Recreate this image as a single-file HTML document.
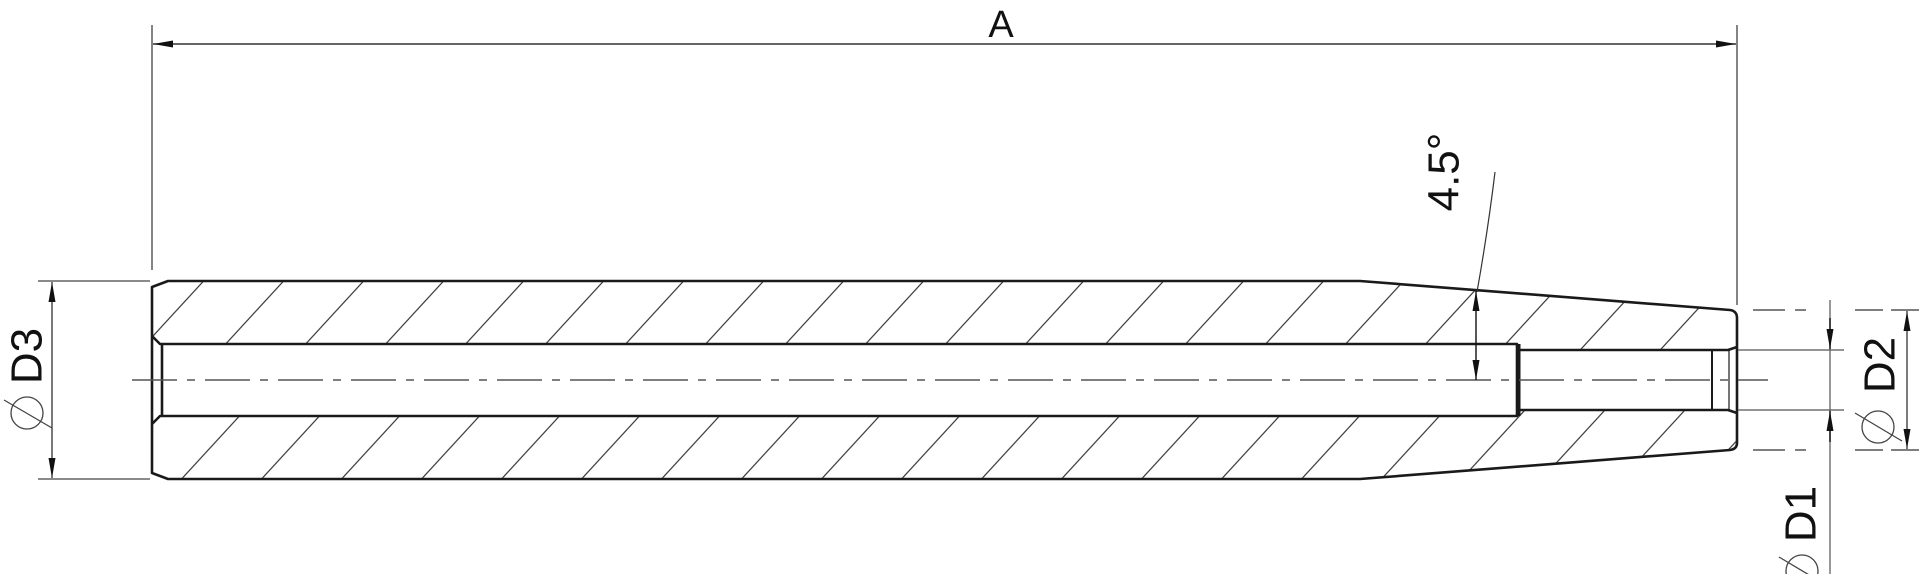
<!DOCTYPE html>
<html><head><meta charset="utf-8"><style>html,body{margin:0;padding:0;background:#fff}svg{display:block}</style></head>
<body>
<svg width="1920" height="574" viewBox="0 0 1920 574" xmlns="http://www.w3.org/2000/svg" font-family="Liberation Sans, sans-serif">
<defs>
<pattern id="h" patternUnits="userSpaceOnUse" width="80" height="20" patternTransform="skewX(-42.6)">
<line x1="62" y1="-5" x2="62" y2="25" stroke="#333" stroke-width="1.6"/>
</pattern>
<marker id="ar" markerWidth="20" markerHeight="10" refX="20" refY="5" orient="auto" markerUnits="userSpaceOnUse"><path d="M0,1.5 L20,5 L0,8.5 Z" fill="#111"/></marker>
<marker id="as" markerWidth="20" markerHeight="10" refX="0" refY="5" orient="auto" markerUnits="userSpaceOnUse"><path d="M20,1.5 L0,5 L20,8.5 Z" fill="#111"/></marker>
</defs>
<polygon points="152,281 1360,281 1737,310 1737,350 1517,350 1517,344 152,344" fill="url(#h)"/>
<polygon points="152,416 1517,416 1517,410 1737,410 1737,450 1360,479 152,479" fill="url(#h)"/>
<rect x="152" y="344" width="1365" height="72" fill="#fff"/>
<rect x="1517" y="350" width="220" height="60" fill="#fff"/>
<g fill="none" stroke="#1a1a1a" stroke-width="2.6" stroke-linejoin="round">
<path d="M168,281 L1360,281 L1730,310 Q1737,311 1737,318 L1737,443 Q1737,449 1730,450 L1360,479 L168,479 L152,473 L152,287 Z"/>
<path d="M152,336 L160,344 L1517,344 L1517,416 L160,416 L152,424"/>
<line x1="162" y1="344" x2="162" y2="416"/>
<path d="M1517,350 L1728,350 L1737,347"/>
<path d="M1517,410 L1728,410 L1737,413"/>
<line x1="1712" y1="350" x2="1712" y2="410" stroke-width="2"/>
<line x1="1729" y1="350" x2="1729" y2="410" stroke-width="1.2"/>
<line x1="1519" y1="344" x2="1519" y2="416" stroke-width="3"/>
</g>
<line x1="132" y1="380" x2="1768" y2="380" stroke="#555" stroke-width="1.5" stroke-dasharray="45,10,8,10"/>
<g stroke="#333" stroke-width="1.2">
<line x1="152" y1="25" x2="152" y2="270"/>
<line x1="1737" y1="25" x2="1737" y2="305"/>
<line x1="153" y1="44" x2="1736" y2="44" stroke-width="1.6" marker-start="url(#as)" marker-end="url(#ar)"/>
</g>
<text x="1001" y="37" font-size="38" text-anchor="middle" fill="#111">A</text>
<g stroke="#444" stroke-width="1.2">
<line x1="38" y1="281" x2="150" y2="281"/>
<line x1="38" y1="479" x2="150" y2="479"/>
<line x1="52" y1="282" x2="52" y2="478" marker-start="url(#as)" marker-end="url(#ar)" stroke="#222"/>
</g>
<text transform="rotate(-90 27 356)" x="27" y="356" font-size="44" text-anchor="middle" dominant-baseline="central" fill="#111">D3</text>
<circle cx="27" cy="413" r="16" fill="none" stroke="#444" stroke-width="1.3"/>
<line x1="4" y1="400" x2="52" y2="428" stroke="#444" stroke-width="1.3"/>
<g stroke="#555" stroke-width="1.5">
<line x1="1753" y1="310" x2="1806" y2="310" stroke-dasharray="32,10"/>
<line x1="1753" y1="450" x2="1806" y2="450" stroke-dasharray="32,10"/>
<line x1="1855" y1="310" x2="1920" y2="310" stroke-dasharray="28,8"/>
<line x1="1855" y1="450" x2="1920" y2="450" stroke-dasharray="28,8"/>
<line x1="1738" y1="350" x2="1844" y2="350" stroke-width="1.3"/>
<line x1="1738" y1="410" x2="1844" y2="410" stroke-width="1.3"/>
<line x1="1830" y1="300" x2="1830" y2="574" stroke-width="1.2"/>
<line x1="1830" y1="318" x2="1830" y2="349" stroke="#111" marker-end="url(#ar)"/>
<line x1="1830" y1="442" x2="1830" y2="411" stroke="#111" marker-end="url(#ar)"/>
<line x1="1907" y1="311" x2="1907" y2="449" stroke="#222" stroke-width="1.2" marker-start="url(#as)" marker-end="url(#ar)"/>
</g>
<text transform="rotate(-90 1880 365)" x="1880" y="365" font-size="44" text-anchor="middle" dominant-baseline="central" fill="#111">D2</text>
<circle cx="1878" cy="427" r="16" fill="none" stroke="#444" stroke-width="1.3"/>
<line x1="1855" y1="413" x2="1902" y2="441" stroke="#444" stroke-width="1.3"/>
<text transform="rotate(-90 1801 514)" x="1801" y="514" font-size="44" text-anchor="middle" dominant-baseline="central" fill="#111">D1</text>
<circle cx="1802" cy="571" r="16" fill="none" stroke="#444" stroke-width="1.3"/>
<line x1="1779" y1="557" x2="1826" y2="585" stroke="#444" stroke-width="1.3"/>
<path d="M1495,172 Q1488,230 1477,292" fill="none" stroke="#333" stroke-width="1.2"/>
<line x1="1476" y1="336" x2="1476" y2="291" stroke="#111" stroke-width="1.4" marker-end="url(#ar)"/>
<line x1="1476" y1="336" x2="1476" y2="380" stroke="#111" stroke-width="1.4" marker-end="url(#ar)"/>
<text transform="rotate(-90 1444 172)" x="1444" y="172" font-size="44" text-anchor="middle" dominant-baseline="central" fill="#111">4.5°</text>
</svg>
</body></html>
